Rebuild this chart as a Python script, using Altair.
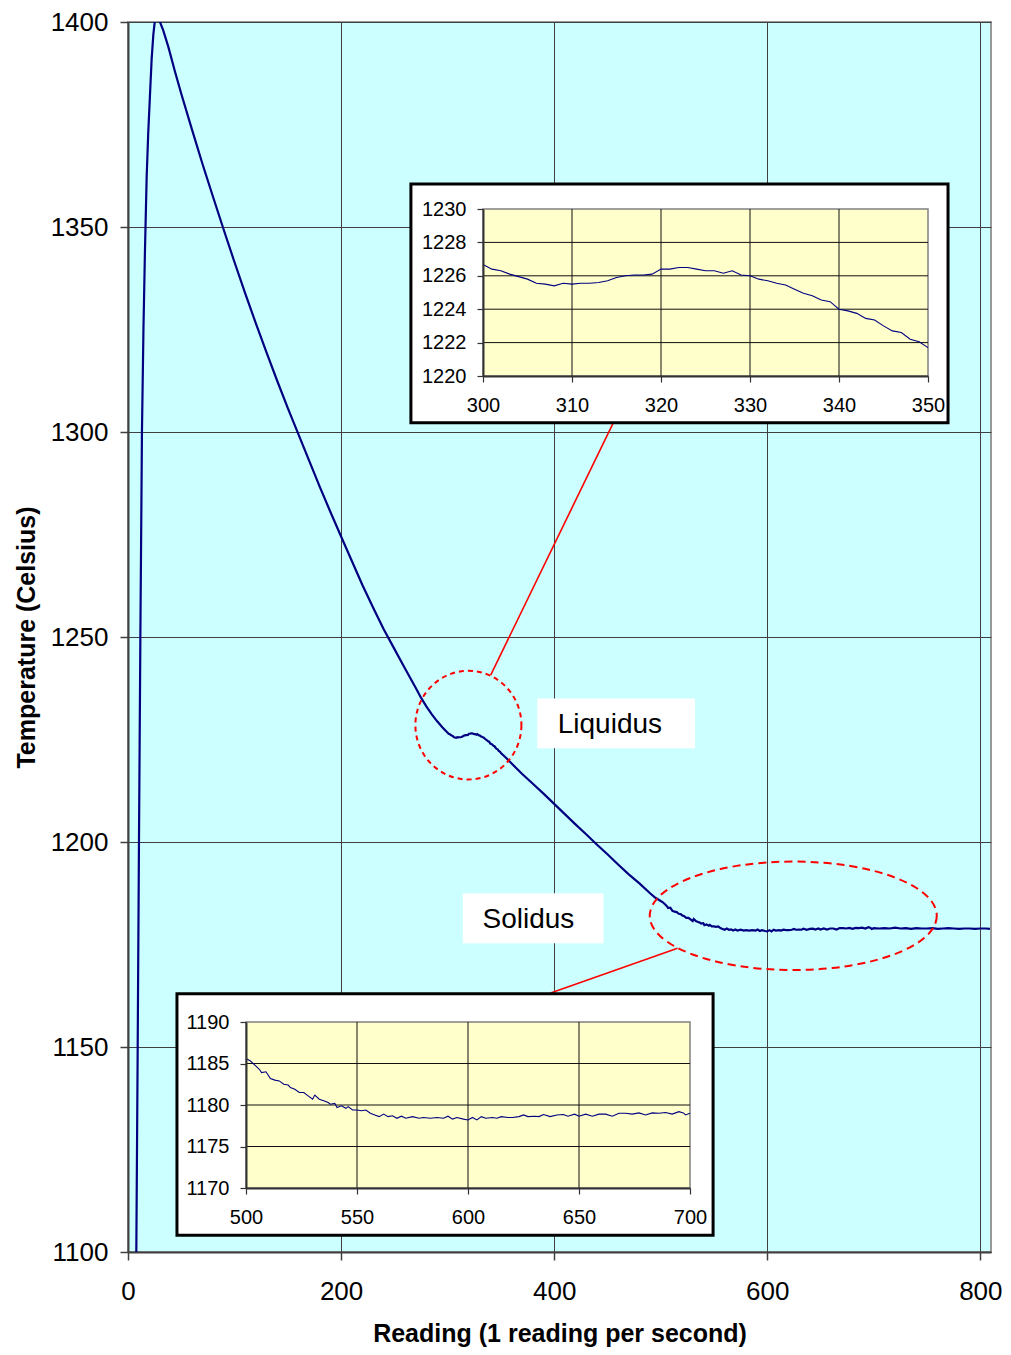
import altair as alt
import pandas as pd

FONT = "Liberation Sans"

# ---------------- main curve (readings) ----------------
rise_x = [7.4, 7.8, 9.1, 10.3, 11.6, 13.1, 14.5, 15.9, 17.5, 19.0, 20.6, 22.2, 23.8, 25.3, 27.0]
rise_t = [1085, 1100, 1150, 1200, 1250, 1300, 1325, 1344, 1362, 1373, 1382, 1391, 1397, 1400.5, 1402]

fall_x = [28.5, 33, 38, 44, 50, 60, 70, 80, 90, 100, 110, 120, 130, 140, 150, 160, 170, 180,
          190, 200, 210, 220, 230, 240, 250, 260, 270, 275, 280, 285, 290, 295]
fall_t = [1401, 1398, 1393.8, 1388, 1382.5, 1373.8, 1365.3, 1357.2, 1349.2, 1341.4, 1333.8,
          1326.5, 1319.4, 1312.5, 1305.8, 1299.4, 1293.0, 1286.6, 1280.5, 1274.5, 1268.6,
          1262.7, 1257.2, 1251.9, 1247.1, 1242.3, 1237.6, 1235.2, 1233.1, 1231.2, 1229.5,
          1228.0]

# liquidus detail (inset 1)
liq_x = list(range(300, 351))
liq_t = [1226.67, 1226.4, 1226.3, 1226.1, 1225.95, 1225.8, 1225.55, 1225.5, 1225.4, 1225.55,
         1225.5, 1225.55, 1225.55, 1225.6, 1225.7, 1225.9, 1226.0, 1226.05, 1226.05, 1226.1,
         1226.4, 1226.4, 1226.5, 1226.5, 1226.4, 1226.3, 1226.3, 1226.15, 1226.3, 1226.05,
         1226.0, 1225.8, 1225.7, 1225.55, 1225.45, 1225.2, 1224.95, 1224.8, 1224.55, 1224.45,
         1224.0, 1223.9, 1223.75, 1223.45, 1223.35, 1223.0, 1222.7, 1222.6, 1222.2, 1222.05,
         1221.7]

mid_x = [355, 361, 370, 380, 390, 400, 410, 420, 430, 440, 450, 460, 470, 480, 490, 495]
mid_t = [1220.5, 1218.9, 1216.6, 1214.2, 1211.8, 1209.3, 1206.8, 1204.3, 1201.9, 1199.4,
         1197.0, 1194.5, 1192.1, 1189.9, 1187.5, 1186.4]

# solidus detail (inset 2)
sol_x = [500, 502, 504, 506, 507, 509, 511, 513, 515, 517, 519, 520, 522, 524, 526, 528, 530,
         531, 533, 535, 537, 538, 540, 541, 543, 545, 546, 548, 550, 552, 554, 556, 558, 560,
         562, 564, 566, 568, 570, 572, 575, 578, 580, 583, 586, 589, 591, 593, 595, 598, 600,
         602, 604, 606, 608, 611, 613, 615, 618, 620, 623, 625, 627, 630, 632, 634, 637, 640,
         643, 645, 648, 650, 653, 656, 659, 662, 665, 668, 671, 674, 677, 680, 683, 686, 689,
         692, 695, 697, 698, 700]
sol_t = [1185.6, 1185.3, 1184.8, 1184.3, 1183.9, 1184.0, 1183.2, 1183.0, 1182.9, 1182.5,
         1182.4, 1182.1, 1181.9, 1181.5, 1181.5, 1181.1, 1180.7, 1181.2, 1180.7, 1180.5,
         1180.3, 1180.1, 1180.2, 1179.7, 1179.9, 1179.6, 1179.8, 1179.4, 1179.4, 1179.3,
         1179.4, 1179.0, 1178.8, 1178.6, 1178.9, 1178.6, 1178.7, 1178.4, 1178.65, 1178.4,
         1178.6, 1178.4, 1178.5, 1178.4, 1178.5, 1178.4, 1178.65, 1178.3, 1178.5, 1178.3,
         1178.2, 1178.5, 1178.2, 1178.6, 1178.4, 1178.5, 1178.4, 1178.6, 1178.5, 1178.5,
         1178.6, 1178.8, 1178.6, 1178.65, 1178.6, 1178.85, 1178.6, 1178.8, 1178.85, 1178.65,
         1178.9, 1178.65, 1178.9, 1178.65, 1178.9, 1178.9, 1178.65, 1179.0, 1179.0, 1178.9,
         1179.05, 1178.8, 1179.05, 1179.0, 1179.1, 1178.9, 1179.2, 1179.05, 1178.8, 1179.0]

tail_x = [705, 710, 715, 720, 725, 730, 735, 740, 745, 750, 755, 760, 765, 770, 775, 780, 785,
          790, 795, 800, 805, 809]
tail_t = [1178.9, 1179.0, 1178.9, 1179.1, 1178.9, 1179.0, 1178.8, 1179.0, 1178.9, 1178.9,
          1179.0, 1178.8, 1178.9, 1179.0, 1178.9, 1178.8, 1178.9, 1178.9, 1178.8, 1178.9,
          1178.9, 1178.8]

main_df = pd.DataFrame({
    "reading": rise_x + fall_x + liq_x + mid_x + sol_x + tail_x,
    "temp": rise_t + fall_t + liq_t + mid_t + sol_t + tail_t,
})

# axis tick values
main_x_ticks = [0, 200, 400, 600, 800]
main_y_ticks = [1100, 1150, 1200, 1250, 1300, 1350, 1400]
in1_x_ticks = [300, 310, 320, 330, 340, 350]
in1_y_ticks = [1220, 1222, 1224, 1226, 1228, 1230]
in2_x_ticks = [500, 550, 600, 650, 700]
in2_y_ticks = [1170, 1175, 1180, 1185, 1190]

# annotation anchors (data units)
ann_labels = ["Liquidus", "Solidus"]
ann_text_x = [452.3, 375.8]
ann_text_t = [1228.5, 1180.9]
ann_box_x1 = [384.1, 314.3]
ann_box_x2 = [532.2, 446.3]
ann_box_t1 = [1235.0, 1187.5]
ann_box_t2 = [1222.85, 1175.3]
conn_x1 = [340.4, 515.8]
conn_t1 = [1240.7, 1174.1]
conn_x2 = [455.8, 396.7]
conn_t2 = [1302.4, 1163.2]

LEFT, TOP = 128, 22          # page position of plot area
W, H = 863, 1230

# ---------------- main view ----------------
mxs = alt.Scale(domain=[0, 810], nice=False, zero=False)
mys = alt.Scale(domain=[1100, 1400], nice=False, zero=False)

common_axis = dict(labelFont=FONT, titleFont=FONT, labelColor="black", titleColor="black",
                   labelFlush=False, labelOverlap=False, grid=True, gridColor="#404040",
                   gridWidth=1, domainColor="#404040", domainWidth=2, tickColor="#404040",
                   tickWidth=1.5, tickSize=8, titleFontWeight="bold", format="d",
                   labelFontSize=26, titleFontSize=25)

x_axis = alt.Axis(values=main_x_ticks, title="Reading (1 reading per second)", orient="bottom",
                  labelPadding=18, titlePadding=17, **common_axis)
y_axis = alt.Axis(values=main_y_ticks, title="Temperature (Celsius)", orient="left",
                  labelPadding=12, titlePadding=11, **common_axis)

main_line = alt.Chart(main_df).mark_line(color="#000080", strokeWidth=2.2, clip=True).encode(
    x=alt.X("reading:Q", scale=mxs, axis=x_axis),
    y=alt.Y("temp:Q", scale=mys, axis=y_axis),
)

conn_df = pd.DataFrame({"x1": conn_x1, "t1": conn_t1, "x2": conn_x2, "t2": conn_t2})
connectors = alt.Chart(conn_df).mark_rule(color="#FF0000", strokeWidth=1.6).encode(
    x=alt.X("x1:Q", scale=mxs, axis=None), x2="x2:Q",
    y=alt.Y("t1:Q", scale=mys, axis=None), y2="t2:Q",
)


def ellipse_path(k):
    c = 0.5523
    return (f"M1,0 C1,{k*c:.4f} {c},{k:.4f} 0,{k:.4f} C{-c},{k:.4f} -1,{k*c:.4f} -1,0 "
            f"C-1,{-k*c:.4f} {-c},{-k:.4f} 0,{-k:.4f} C{c},{-k:.4f} 1,{-k*c:.4f} 1,0 Z")


circ_df = pd.DataFrame({"reading": [319.5], "temp": [1228.5]})
circle = alt.Chart(circ_df).mark_point(
    shape=ellipse_path(1.025), size=106 ** 2, filled=False, color="#FF0000",
    strokeWidth=2, strokeDash=[5, 4], opacity=1,
).encode(x=alt.X("reading:Q", scale=mxs, axis=None), y=alt.Y("temp:Q", scale=mys, axis=None))

ell_df = pd.DataFrame({"reading": [624.4], "temp": [1182.0]})
ellipse = alt.Chart(ell_df).mark_point(
    shape=ellipse_path(0.378), size=287 ** 2, filled=False, color="#FF0000",
    strokeWidth=2, strokeDash=[8, 5], opacity=1,
).encode(x=alt.X("reading:Q", scale=mxs, axis=None), y=alt.Y("temp:Q", scale=mys, axis=None))

box_df = pd.DataFrame({"x1": ann_box_x1, "x2": ann_box_x2, "t1": ann_box_t1, "t2": ann_box_t2})
boxes = alt.Chart(box_df).mark_rect(fill="white").encode(
    x=alt.X("x1:Q", scale=mxs, axis=None), x2="x2:Q",
    y=alt.Y("t1:Q", scale=mys, axis=None), y2="t2:Q",
)
lab_df = pd.DataFrame({"reading": ann_text_x, "temp": ann_text_t, "label": ann_labels})
labels = alt.Chart(lab_df).mark_text(font=FONT, fontSize=28, color="black", align="center",
                                     baseline="middle").encode(
    x=alt.X("reading:Q", scale=mxs, axis=None),
    y=alt.Y("temp:Q", scale=mys, axis=None),
    text="label:N",
)


# ---------------- inset builder ----------------
def inset(df, xdom, ydom, page_x, page_y, xticks, yticks, frame):
    xrange = [page_x[0] - LEFT, page_x[1] - LEFT]
    yrange = [page_y[1] - TOP, page_y[0] - TOP]
    xs = alt.Scale(domain=xdom, range=xrange, nice=False, zero=False)
    ys = alt.Scale(domain=ydom, range=yrange, nice=False, zero=False)
    ax_common = dict(grid=False, title=None, labelFont=FONT, labelFontSize=20, labelColor="black",
                     tickSize=6, tickColor="#333333", tickWidth=1.2, domainColor="#333333",
                     domainWidth=2, labelFlush=False, labelOverlap=False, zindex=1, format="d")
    xa = alt.Axis(orient="bottom", offset=yrange[0] - H, values=xticks, labelPadding=13,
                  **ax_common)
    ya = alt.Axis(orient="left", offset=-xrange[0], values=yticks, labelPadding=11,
                  **ax_common)
    fdf = pd.DataFrame({"x1": [frame[0]], "x2": [frame[1]], "t1": [frame[2]], "t2": [frame[3]]})
    fr = alt.Chart(fdf).mark_rect(fill="white", stroke="black", strokeWidth=3).encode(
        x=alt.X("x1:Q", scale=xs, axis=None), x2="x2:Q",
        y=alt.Y("t1:Q", scale=ys, axis=None), y2="t2:Q")
    bdf = pd.DataFrame({"x1": [xdom[0]], "x2": [xdom[1]], "t1": [ydom[0]], "t2": [ydom[1]]})
    bg = alt.Chart(bdf).mark_rect(fill="#FFFFCC", stroke="#808080", strokeWidth=1.5).encode(
        x=alt.X("x1:Q", scale=xs, axis=None), x2="x2:Q",
        y=alt.Y("t1:Q", scale=ys, axis=None), y2="t2:Q")
    vdf = pd.DataFrame({"gx": xticks[1:-1], "t1": ydom[0], "t2": ydom[1]})
    vg = alt.Chart(vdf).mark_rule(color="#111111", strokeWidth=1).encode(
        x=alt.X("gx:Q", scale=xs, axis=None),
        y=alt.Y("t1:Q", scale=ys, axis=None), y2="t2:Q")
    hdf = pd.DataFrame({"gy": yticks[1:-1], "x1": xdom[0], "x2": xdom[1]})
    hg = alt.Chart(hdf).mark_rule(color="#111111", strokeWidth=1).encode(
        y=alt.Y("gy:Q", scale=ys, axis=None),
        x=alt.X("x1:Q", scale=xs, axis=None), x2="x2:Q")
    ln = alt.Chart(df).mark_line(color="#000080", strokeWidth=1.1).encode(
        x=alt.X("reading:Q", scale=xs, axis=xa),
        y=alt.Y("temp:Q", scale=ys, axis=ya),
    )
    return [fr, bg, vg, hg, ln]


in1_df = pd.DataFrame({"reading": liq_x, "temp": liq_t})
in2_df = pd.DataFrame({"reading": sol_x, "temp": sol_t})

inset1 = inset(in1_df, [300, 350], [1220, 1230], [483, 928], [209, 376],
               in1_x_ticks, in1_y_ticks, [291.9, 352.25, 1231.5, 1217.2])
inset2 = inset(in2_df, [500, 700], [1170, 1190], [246, 690], [1022, 1188],
               in2_x_ticks, in2_y_ticks, [468.9, 710.4, 1193.4, 1164.3])

layers = [main_line, connectors, circle, ellipse, boxes, labels] + inset1 + inset2

chart = alt.layer(*layers).resolve_scale(
    x="independent", y="independent"
).resolve_axis(
    x="independent", y="independent"
).properties(
    width=W, height=H,
    padding={"left": LEFT - 8, "top": TOP - 8, "right": 12, "bottom": 95},
    autosize=alt.AutoSizeParams(type="none"),
).configure(
    font=FONT
).configure_view(
    fill="#CCFFFF", stroke="#999999", strokeWidth=2
)

chart.save("out.html", embed_options={"renderer": "svg", "actions": False})
